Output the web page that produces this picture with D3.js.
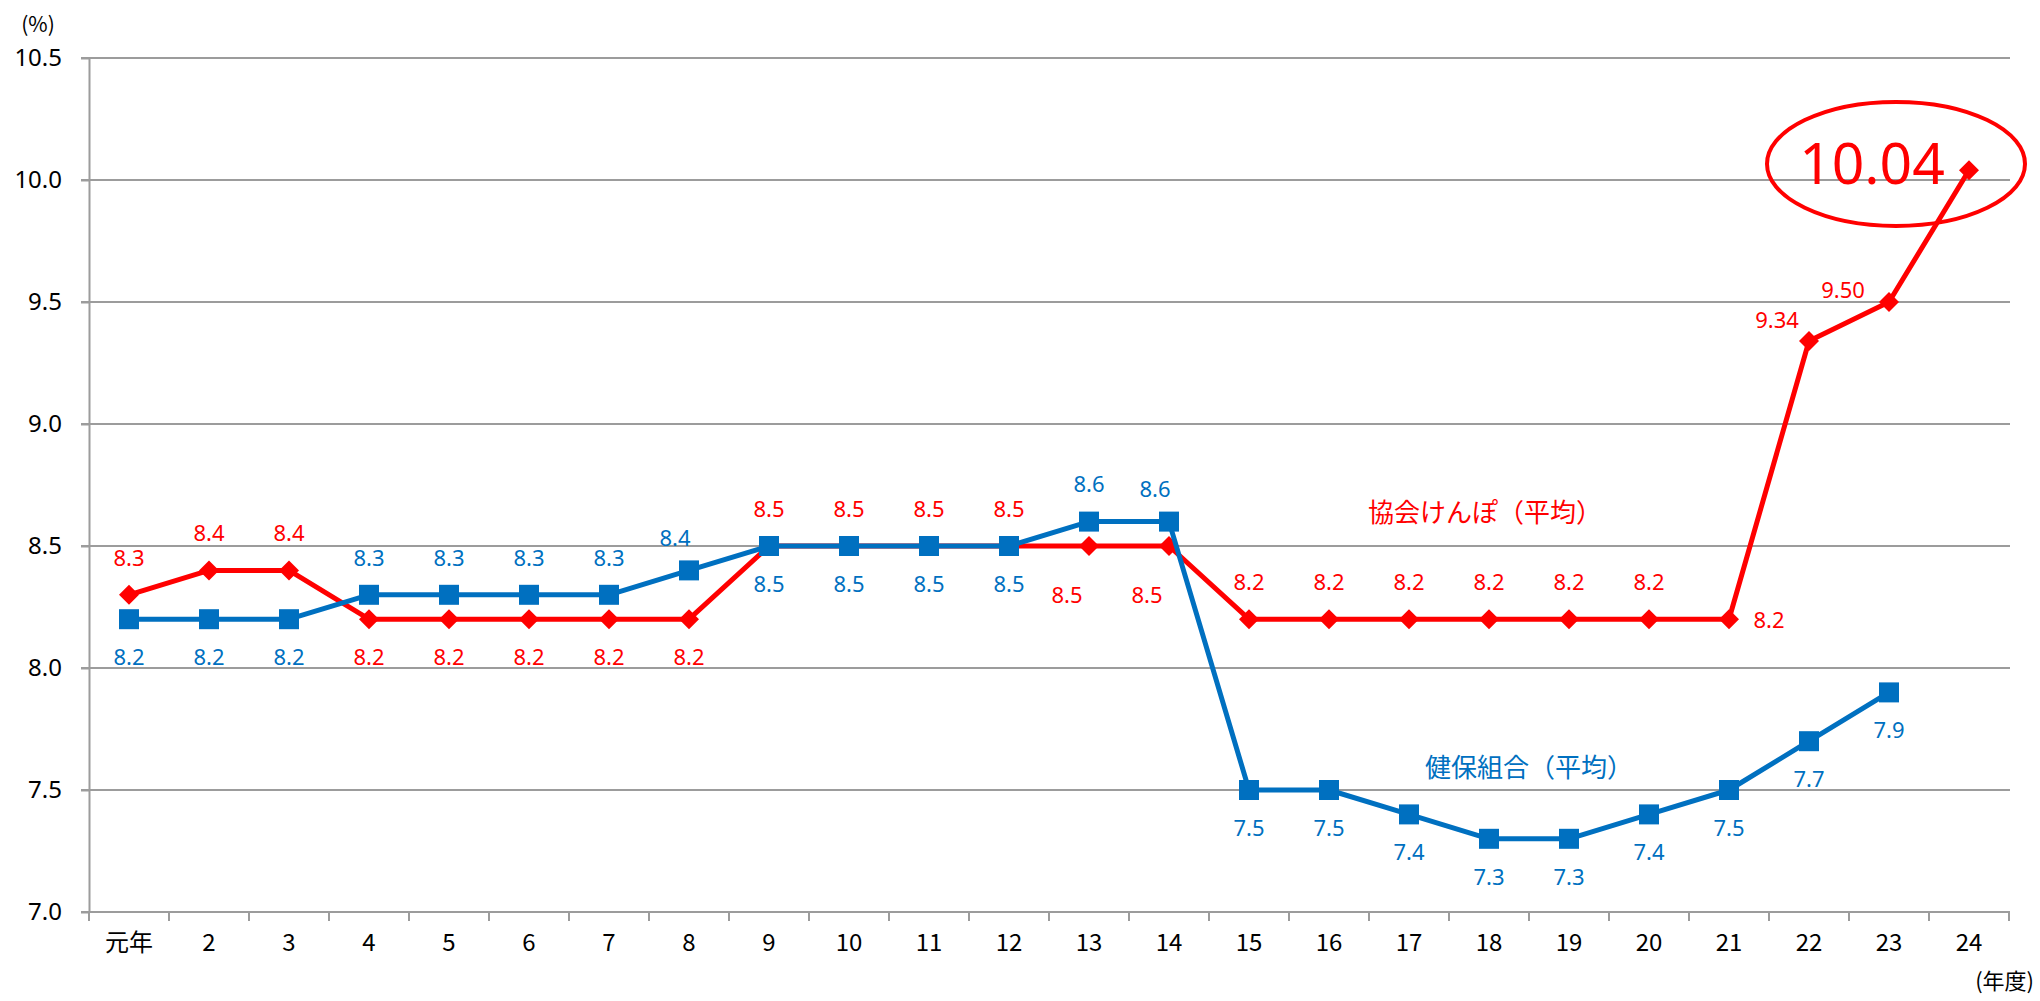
<!DOCTYPE html>
<html>
<head>
<meta charset="utf-8">
<script src="https://cdn.jsdelivr.net/npm/d3@7"></script>
<style>
  body { margin: 0; background: #fff; }
  text { font-family: "Noto Sans CJK JP", "Noto Sans", sans-serif; }
</style>
</head>
<body>
<div id="chart-container"></div>
<script>
// fiscal years (Heisei)
const years = ["元年", "2", "3", "4", "5", "6", "7", "8", "9", "10", "11", "12",
  "13", "14", "15", "16", "17", "18", "19", "20", "21", "22", "23", "24"];
// 協会けんぽ (平均)
const kyokai = [8.3, 8.4, 8.4, 8.2, 8.2, 8.2, 8.2, 8.2, 8.5, 8.5, 8.5, 8.5,
  8.5, 8.5, 8.2, 8.2, 8.2, 8.2, 8.2, 8.2, 8.2, 9.34, 9.50, 10.04];
// 健保組合 (平均) - no value yet for 24
const kenpo = [8.2, 8.2, 8.2, 8.3, 8.3, 8.3, 8.3, 8.4, 8.5, 8.5, 8.5, 8.5,
  8.6, 8.6, 7.5, 7.5, 7.4, 7.3, 7.3, 7.4, 7.5, 7.7, 7.9];
const yTicks = [7.0, 7.5, 8.0, 8.5, 9.0, 9.5, 10.0, 10.5];

// which side of the point each data label sits on
const kyokaiSide = ["a", "a", "a", "b", "b", "b", "b", "b", "a", "a", "a", "a",
  "bl", "bl", "a", "a", "a", "a", "a", "a", "r", "al", "l", null];
const kenpoSide = ["b", "b", "b", "a", "a", "a", "a", "ak", "b", "b", "b", "b",
  "a", "ak", "b", "b", "b", "b", "b", "b", "b", "b", "b"];

const RED = "#ff0000", BLUE = "#0070c0", GRID = "#9c9c9c";

let svg = d3.select("#chart-container").append("svg")
    .attr("width", 2040).attr("height", 1001),
  plotL = 89, plotR = 2009, plotT = 58, plotB = 912;

let x = d3.scaleBand().domain(years).range([plotL, plotR]),
  y = d3.scaleLinear().domain([7, 10.5]).range([plotB, plotT]),
  cx = d => x(d) + x.bandwidth() / 2;

// gridlines
svg.append("g").selectAll("line")
  .data(yTicks.filter(t => t > 7))
  .join("line")
  .attr("x1", plotL - 8).attr("x2", plotR + 1)
  .attr("y1", d => y(d)).attr("y2", d => y(d))
  .attr("stroke", GRID).attr("stroke-width", 2);

// y axis
let yAxis = svg.append("g")
  .attr("transform", `translate(${plotL},0)`)
  .call(d3.axisLeft(y).tickValues(yTicks).tickFormat(d3.format(".1f"))
    .tickSize(8).tickSizeOuter(0).tickPadding(19));
yAxis.select(".domain").attr("stroke", GRID).attr("stroke-width", 2);
yAxis.selectAll(".tick line").attr("stroke", GRID).attr("stroke-width", 2);
yAxis.selectAll(".tick text").attr("font-size", 24).attr("fill", "#000")
  .style("font-family", "'Noto Sans', sans-serif");

// x axis: labels at band centres, ticks at band edges
let xAxis = svg.append("g")
  .attr("transform", `translate(0,${plotB})`)
  .call(d3.axisBottom(x).tickSize(0).tickSizeOuter(0).tickPadding(22));
xAxis.select(".domain").attr("stroke", GRID).attr("stroke-width", 2)
  .attr("d", `M${plotL - 8},0H${plotR + 1}`);
xAxis.selectAll(".tick text").attr("font-size", 24).attr("fill", "#000");
xAxis.selectAll(".edge")
  .data(years.map(d => x(d)).concat([plotR]))
  .join("line").attr("class", "edge")
  .attr("x1", d => d).attr("x2", d => d)
  .attr("y1", 0).attr("y2", 9)
  .attr("stroke", GRID).attr("stroke-width", 2);

// unit labels
svg.append("text").attr("x", 38).attr("y", 25).attr("dy", "0.35em")
  .attr("text-anchor", "middle").attr("font-size", 21).text("(%)");
svg.append("text").attr("x", 2034).attr("y", 981).attr("dy", "0.35em")
  .attr("text-anchor", "end").attr("font-size", 22).text("(年度)");

let line = d3.line().x(d => cx(d.year)).y(d => y(d.value));

let redData = kyokai.map((v, i) => ({ year: years[i], value: v, side: kyokaiSide[i] })),
  blueData = kenpo.map((v, i) => ({ year: years[i], value: v, side: kenpoSide[i] }));

// 協会けんぽ
svg.append("path").datum(redData)
  .attr("fill", "none").attr("stroke", RED).attr("stroke-width", 5)
  .attr("stroke-linejoin", "round").attr("d", line);
svg.append("g").selectAll("path")
  .data(redData).join("path")
  .attr("transform", d => `translate(${cx(d.year)},${y(d.value)})`)
  .attr("d", "M0,-10L10,0L0,10L-10,0Z").attr("fill", RED);

// 健保組合
svg.append("path").datum(blueData)
  .attr("fill", "none").attr("stroke", BLUE).attr("stroke-width", 5)
  .attr("stroke-linejoin", "round").attr("d", line);
svg.append("g").selectAll("rect")
  .data(blueData).join("rect")
  .attr("x", d => cx(d.year) - 10).attr("y", d => y(d.value) - 10)
  .attr("width", 20).attr("height", 20).attr("fill", BLUE);

// data labels
const offsets = {
  a: [0, -37], b: [0, 38], bl: [-22, 49], r: [40, 1],
  al: [-32, -21], l: [-46, -12], ak: [-14, -32]
};
function labels(data, color, fmt) {
  svg.append("g").selectAll("text")
    .data(data.filter(d => d.side)).join("text")
    .attr("x", d => cx(d.year) + offsets[d.side][0])
    .attr("y", d => y(d.value) + offsets[d.side][1])
    .attr("dy", "0.35em").attr("text-anchor", "middle")
    .attr("font-size", 22).attr("fill", color)
    .style("font-family", "'Noto Sans', sans-serif")
    .text(fmt);
}
labels(redData, RED, d => d.value >= 9 ? d3.format(".2f")(d.value) : d3.format(".1f")(d.value));
labels(blueData, BLUE, d => d3.format(".1f")(d.value));

// highlighted last value
let last = redData[redData.length - 1];
svg.append("ellipse")
  .attr("cx", cx("23") + 7).attr("cy", y(10.066))
  .attr("rx", 129).attr("ry", 62)
  .attr("fill", "none").attr("stroke", RED).attr("stroke-width", 4);
svg.append("text")
  .attr("x", cx("23") - 17).attr("y", y(10.066)).attr("dy", "0.35em")
  .attr("text-anchor", "middle").attr("font-size", 57).attr("fill", RED)
  .style("font-family", "'Noto Sans', sans-serif")
  .text(d3.format(".2f")(last.value));

// series names
svg.append("text")
  .attr("x", cx("18") - 4).attr("y", y(8.635)).attr("dy", "0.35em")
  .attr("text-anchor", "middle").attr("font-size", 26).attr("fill", RED)
  .text("協会けんぽ（平均）");
svg.append("text")
  .attr("x", (cx("18") + cx("19")) / 2).attr("y", y(7.59)).attr("dy", "0.35em")
  .attr("text-anchor", "middle").attr("font-size", 26).attr("fill", BLUE)
  .text("健保組合（平均）");
</script>
</body>
</html>
